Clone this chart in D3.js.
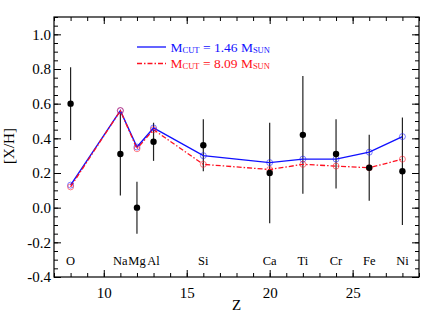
<!DOCTYPE html>
<html>
<head>
<meta charset="utf-8">
<script src="https://cdnjs.cloudflare.com/ajax/libs/d3/7.8.5/d3.min.js"></script>
<style>
  body { margin: 0; background: #fff; }
  #chart svg { display: block; }
  text { font-family: "Liberation Serif", "Times New Roman", serif; }
</style>
</head>
<body>
<div id="chart"></div>
<script>
// abundances
var elements = ["O", "Na", "Mg", "Al", "Si", "Ca", "Ti", "Cr", "Fe", "Ni"];
var zValues = [8, 11, 12, 13, 16, 20, 22, 24, 26, 28];
var observed = [0.60, 0.31, 0.00, 0.38, 0.36, 0.20, 0.42, 0.31, 0.23, 0.21];
var obsError = [0.21, 0.24, 0.15, 0.11, 0.15, 0.29, 0.34, 0.20, 0.19, 0.31];
var modelLow = [0.13, 0.56, 0.35, 0.46, 0.30, 0.26, 0.28, 0.28, 0.32, 0.41];   // M_cut = 1.46
var modelHigh = [0.12, 0.56, 0.34, 0.45, 0.25, 0.22, 0.25, 0.24, 0.23, 0.28];  // M_cut = 8.09

var xTicks = [10, 15, 20, 25];
var yTicks = [-0.4, -0.2, 0.0, 0.2, 0.4, 0.6, 0.8, 1.0];
var legendLabels = [["1.46", "#1010ff"], ["8.09", "#ff1020"]];

var render = function() {
  let margin = { top: 17, right: 17, bottom: 35, left: 54 };
  let width = 436 - margin.left - margin.right;
  let height = 312 - margin.top - margin.bottom;

  let zScale = d3.scaleLinear()
  .domain([7, 29])
  .range([0, width]);

  let xhScale = d3.scaleLinear()
  .domain([-0.4, 1.1])
  .range([height, 0]);

  let svg = d3.select("#chart")
  .append("svg")
  .attr("width", 436)
  .attr("height", 312);

  let g = svg.append("g")
  .attr("transform", "translate(" + margin.left + "," + margin.top + ")");

  // ticks inward on all four sides
  let minorX = d3.range(7, 30, 1);
  let minorY = d3.range(-0.4, 1.1001, 0.05);

  g.append("g")
  .attr("transform", "translate(0," + height + ")")
  .call(d3.axisBottom(zScale).tickValues(minorX).tickSize(-4).tickFormat(""));
  g.append("g")
  .call(d3.axisTop(zScale).tickValues(minorX).tickSize(-4).tickFormat(""));
  g.append("g")
  .call(d3.axisLeft(xhScale).tickValues(minorY).tickSize(-4).tickFormat(""));
  g.append("g")
  .attr("transform", "translate(" + width + ",0)")
  .call(d3.axisRight(xhScale).tickValues(minorY).tickSize(-4).tickFormat(""));

  g.append("g")
  .attr("class", "xaxis")
  .attr("transform", "translate(0," + height + ")")
  .call(d3.axisBottom(zScale).tickValues(xTicks).tickSize(-7).tickPadding(10));
  g.append("g")
  .call(d3.axisTop(zScale).tickValues(xTicks).tickSize(-7).tickFormat(""));
  g.append("g")
  .attr("class", "yaxis")
  .call(d3.axisLeft(xhScale).tickValues(yTicks).tickSize(-7).tickPadding(3)
    .tickFormat((d) => d.toFixed(1)));
  g.append("g")
  .attr("transform", "translate(" + width + ",0)")
  .call(d3.axisRight(xhScale).tickValues(yTicks).tickSize(-7).tickFormat(""));

  g.selectAll(".domain").remove();
  g.selectAll(".tick line").attr("stroke", "#000").attr("stroke-width", 1);
  g.selectAll(".xaxis text, .yaxis text")
  .style("font-family", "Liberation Serif")
  .style("font-size", "15px")
  .attr("fill", "#000");

  g.append("rect")
  .attr("width", width)
  .attr("height", height)
  .attr("fill", "none")
  .attr("stroke", "#000")
  .attr("stroke-width", 1.2);

  // element names
  g.selectAll(".elem")
  .data(elements)
  .enter()
  .append("text")
  .attr("x", (d, i) => zScale(zValues[i]))
  .attr("y", xhScale(-0.3) + 5)
  .attr("text-anchor", "middle")
  .style("font-size", "12.5px")
  .text((d) => d);

  // error bars and observed points
  g.selectAll(".err")
  .data(observed)
  .enter()
  .append("line")
  .attr("x1", (d, i) => zScale(zValues[i]))
  .attr("x2", (d, i) => zScale(zValues[i]))
  .attr("y1", (d, i) => xhScale(d + obsError[i]))
  .attr("y2", (d, i) => xhScale(d - obsError[i]))
  .attr("stroke", "#222")
  .attr("stroke-width", 1.2);

  let line = d3.line()
  .x((d, i) => zScale(zValues[i]))
  .y((d) => xhScale(d));

  g.append("path")
  .attr("d", line(modelLow))
  .attr("fill", "none")
  .attr("stroke", legendLabels[0][1])
  .attr("stroke-width", 1.4);

  g.append("path")
  .attr("d", line(modelHigh))
  .attr("fill", "none")
  .attr("stroke", legendLabels[1][1])
  .attr("stroke-width", 1.3)
  .attr("stroke-dasharray", "5,2,1.5,2");

  [modelLow, modelHigh].forEach(function (series, k) {
    g.selectAll(".m" + k)
    .data(series)
    .enter()
    .append("circle")
    .attr("cx", (d, i) => zScale(zValues[i]))
    .attr("cy", (d) => xhScale(d))
    .attr("r", 3)
    .attr("fill", "none")
    .attr("stroke", legendLabels[k][1])
    .attr("stroke-opacity", 0.6)
    .attr("stroke-width", 0.9);
  });

  g.selectAll(".obs")
  .data(observed)
  .enter()
  .append("circle")
  .attr("cx", (d, i) => zScale(zValues[i]))
  .attr("cy", (d) => xhScale(d))
  .attr("r", 3.2)
  .attr("fill", "#000");

  // legend
  legendLabels.forEach(function (item, k) {
    let ly = 30 + k * 16.5;
    g.append("line")
    .attr("x1", 83)
    .attr("x2", 112)
    .attr("y1", ly)
    .attr("y2", ly)
    .attr("stroke", item[1])
    .attr("stroke-width", 1.3)
    .attr("stroke-dasharray", k == 1 ? "5,2,1.5,2" : null);

    let t = g.append("text")
    .attr("x", 116.5)
    .attr("y", ly + 4.5)
    .attr("fill", item[1])
    .style("font-size", "13.5px");
    t.append("tspan").text("M");
    t.append("tspan").attr("dy", 1).style("font-size", "8.5px").text("CUT");
    t.append("tspan").attr("dy", -1).text(" = " + item[0] + " M");
    t.append("tspan").attr("dy", 1).style("font-size", "8.5px").text("SUN");
  });

  // axis titles
  svg.append("text")
  .attr("x", margin.left + zScale(18))
  .attr("y", 310)
  .attr("text-anchor", "middle")
  .style("font-size", "15px")
  .text("Z");

  svg.append("text")
  .attr("transform", "translate(14,146) rotate(-90)")
  .attr("text-anchor", "middle")
  .style("font-size", "15px")
  .text("[X/H]");
};

render();
</script>
</body>
</html>
